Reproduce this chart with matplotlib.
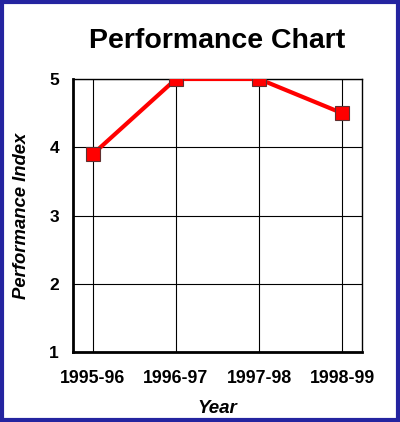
import matplotlib
matplotlib.use("Agg")
import matplotlib.pyplot as plt
from matplotlib.patches import Rectangle

years = ["1995-96", "1996-97", "1997-98", "1998-99"]
performance = [3.9, 5.0, 5.0, 4.5]
y_ticks = [1, 2, 3, 4, 5]

plt.rcParams["font.family"] = ["Liberation Sans", "DejaVu Sans"]

fig = plt.figure(figsize=(4.0, 4.22), dpi=100)
ax = fig.add_axes([73 / 400, 70 / 422, 289 / 400, 273 / 422])

x = list(range(len(years)))
ax.plot(x, performance, color="#ff0000", linewidth=3, marker="s", markersize=9.5,
        markerfacecolor="#ff0000", markeredgecolor="#603030", markeredgewidth=0.8,
        zorder=3, clip_on=True)

ax.set_xlim(-0.24, 3.24)
ax.set_ylim(1, 5)
ax.set_xticks(x)
ax.set_xticklabels(years, fontsize=12.8, fontweight="bold")
ax.set_yticks(y_ticks)
ax.set_yticklabels([str(t) for t in y_ticks], fontsize=12.5, fontweight="bold")
ax.tick_params(axis="x", length=0, pad=13)
ax.tick_params(axis="y", length=0, pad=10)

ax.grid(True, color="black", linewidth=0.8)
ax.set_axisbelow(True)
for side in ["left", "bottom"]:
    ax.spines[side].set_linewidth(2)
for side in ["top", "right"]:
    ax.spines[side].set_linewidth(1)

ax.set_xlabel("Year", fontsize=13.5, fontweight="bold", fontstyle="italic", labelpad=9)
ax.set_ylabel("Performance Index", fontsize=13.3, fontweight="bold", fontstyle="italic", labelpad=14)
fig.text(217 / 400, 1 - 41 / 422, "Performance Chart", fontsize=20.5, fontweight="bold",
         ha="center", va="center")

# blue frame around the whole picture
fig.patches.append(Rectangle((0.004, 0.004), 0.992, 0.992, transform=fig.transFigure,
                             fill=False, edgecolor="#2424a0", linewidth=3))

fig.savefig("out.png", dpi=100)
